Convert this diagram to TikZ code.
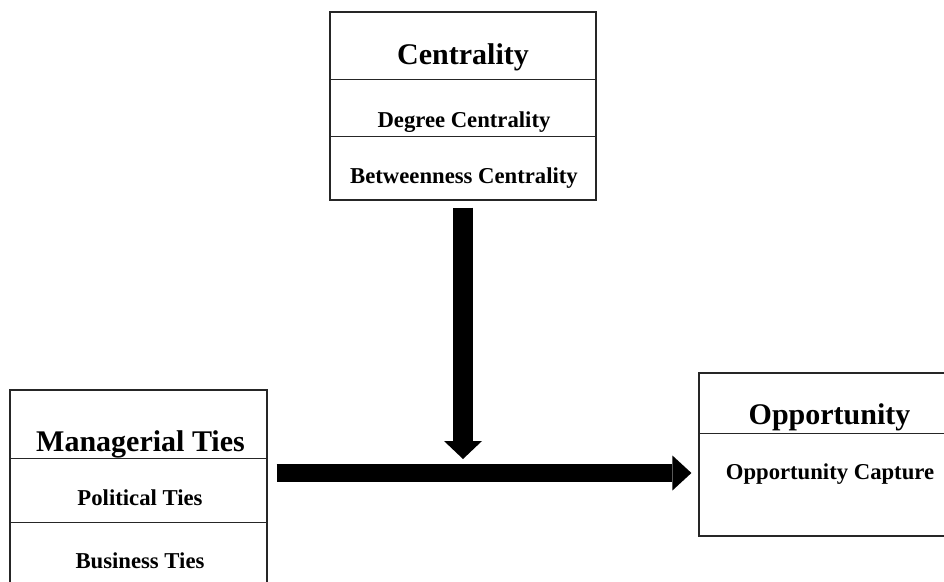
\documentclass[tikz,border=0pt]{standalone}
\usepackage{fontspec}
\setmainfont{Liberation Serif}
\usetikzlibrary{arrows.meta}
\begin{document}
\begin{tikzpicture}[x=1pt,y=-1pt,
  box/.style={draw=black!85,line width=1.2pt,inner sep=0pt,fill=none},
  divider/.style={draw=black!85,line width=1.2pt},
  titletext/.style={font=\bfseries\fontsize{30}{36}\selectfont,anchor=base,inner sep=0pt},
  subtext/.style={font=\bfseries\fontsize{22.7}{27}\selectfont,anchor=base,inner sep=0pt},
  bigarrow/.style={line width=20pt,-{Triangle[width=38pt,length=18pt,line width=0pt]}},
  bigarrowh/.style={line width=18pt,-{Triangle[width=35pt,length=19pt,line width=0pt]}}]
\useasboundingbox (0,0) rectangle (944,581);
\clip (0,0) rectangle (944,581);
\fill[white] (0,0) rectangle (944,581);

% Centrality box
\node[box,minimum width=266pt,minimum height=188pt] (cent) at (463,106) {};
\draw[divider] ([yshift=-68pt]cent.north west) -- ([yshift=-68pt]cent.north east);
\draw[divider] ([yshift=-125pt]cent.north west) -- ([yshift=-125pt]cent.north east);
\node[titletext] (centT) at (463,64) {Centrality};
\node[subtext] (centA) at (464,127) {Degree Centrality};
\node[subtext] (centB) at (464,183) {Betweenness Centrality};

% Managerial Ties box
\node[box,minimum width=257pt,minimum height=210pt] (mt) at (138.5,495) {};
\draw[divider] ([yshift=-69pt]mt.north west) -- ([yshift=-69pt]mt.north east);
\draw[divider] ([yshift=-133pt]mt.north west) -- ([yshift=-133pt]mt.north east);
\node[titletext] (mtT) at (140.5,451) {Managerial Ties};
\node[subtext] (mtA) at (140,505) {Political Ties};
\node[subtext] (mtB) at (140,568) {Business Ties};

% Opportunity box
\node[box,minimum width=262pt,minimum height=163pt] (opp) at (830,454.5) {};
\draw[divider] ([yshift=-61pt]opp.north west) -- ([yshift=-61pt]opp.north east);
\node[titletext] (oppT) at (829.5,424) {Opportunity};
\node[subtext] (oppA) at (830,479) {Opportunity Capture};

% Arrows
\coordinate (meet) at (463,459);
\draw[bigarrow] ([yshift=-7pt]cent.south) -- (meet);
\draw[bigarrowh] ([xshift=9pt]mt.east |- 0,473) -- ([xshift=-7pt]opp.west |- 0,473);
\end{tikzpicture}
\end{document}
